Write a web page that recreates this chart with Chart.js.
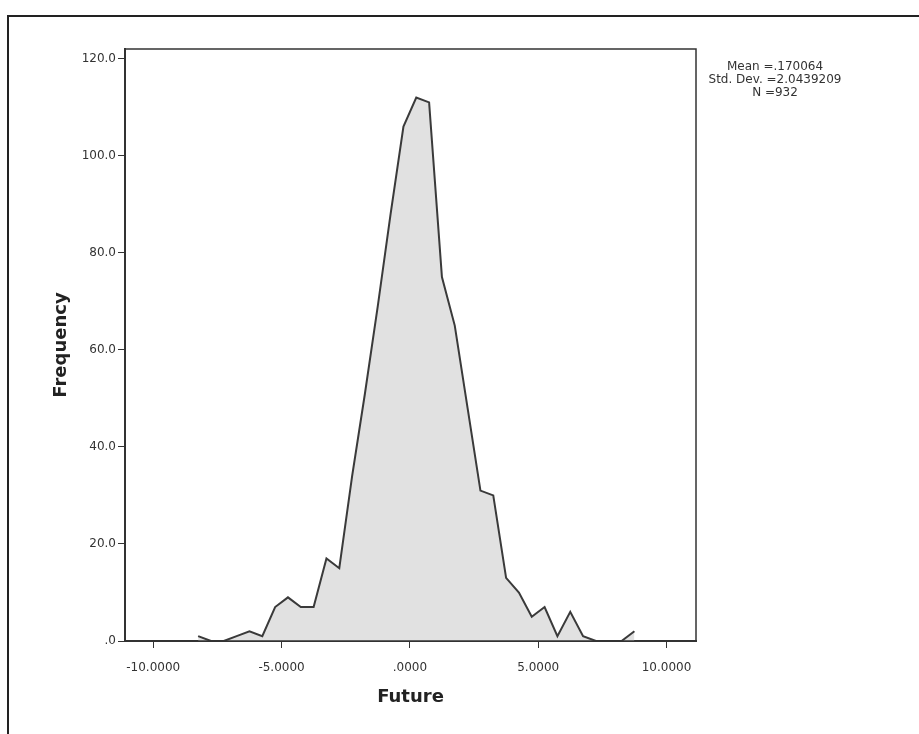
<!DOCTYPE html>
<html>
<head>
<meta charset="utf-8">
<script src="https://cdn.jsdelivr.net/npm/chart.js@4.4.1/dist/chart.umd.min.js"></script>
<style>
    html, body { margin: 0; padding: 0; background: #fff; }
    #wrap { position: relative; width: 919px; height: 734px; }
    #frame {
        position: absolute; left: 7px; top: 15px; right: 0; bottom: 0;
        border-left: 2px solid #222; border-top: 2px solid #222;
        pointer-events: none;
    }
    canvas { position: absolute; left: 0; top: 0; }
</style>
</head>
<body>
<div id="wrap">
    <canvas id="histChart" width="919" height="734"></canvas>
    <div id="frame"></div>
</div>
<script>
// bin midpoints of "Future" and the count in each bin (frequency polygon)
const binMids = [-8.25, -7.75, -7.25, -6.75, -6.25, -5.75, -5.25, -4.75, -4.25, -3.75,
    -3.25, -2.75, -2.25, -1.75, -1.25, -0.75, -0.25, 0.25, 0.75, 1.25,
    1.75, 2.25, 2.75, 3.25, 3.75, 4.25, 4.75, 5.25, 5.75, 6.25,
    6.75, 7.25, 7.75, 8.25, 8.75];
const frequencies = [1, 0, 0, 1, 2, 1, 7, 9, 7, 7,
    17, 15, 34, 51, 69, 88, 106, 112, 111, 75,
    65, 48, 31, 30, 13, 10, 5, 7, 1, 6,
    1, 0, 0, 0, 2];

const xTicks = [-10, -5, 0, 5, 10];
const yTicks = [0, 20, 40, 60, 80, 100, 120];
const statLines = ["Mean =.170064", "Std. Dev. =2.0439209", "N =932"];

function fmt(v, digits) {
    if (v === 0) return "." + "0".repeat(digits);
    return v.toFixed(digits);
}

// box round the plot area and the summary text on the right
const extras = {
    id: "extras",
    afterDraw(chart) {
        const { ctx, chartArea } = chart;
        ctx.save();
        ctx.strokeStyle = "#333";
        ctx.lineWidth = 1.5;
        ctx.strokeRect(chartArea.left, chartArea.top,
            chartArea.right - chartArea.left, chartArea.bottom - chartArea.top);

        ctx.fillStyle = "#333";
        ctx.font = "12px 'DejaVu Sans'";
        ctx.textAlign = "center";
        ctx.textBaseline = "middle";
        statLines.forEach((s, i) => {
            ctx.fillText(s, chartArea.right + 79, chartArea.top + 18 + i * 13);
        });
        ctx.restore();
    },
};

const ctx = document.getElementById("histChart").getContext("2d");

new Chart(ctx, {
    type: "line",
    data: {
        datasets: [
            {
                label: "Future",
                data: binMids.map((x, i) => ({ x: x, y: frequencies[i] })),
                borderColor: "#3a3a3a",
                borderWidth: 2,
                backgroundColor: "#e1e1e1",
                fill: "origin",
                tension: 0,
                pointRadius: 0,
            },
        ],
    },
    options: {
        responsive: false,
        animation: false,
        devicePixelRatio: 1,
        layout: { padding: { left: 47, right: 223, top: 49, bottom: 22 } },
        plugins: {
            legend: { display: false },
            tooltip: { enabled: false },
        },
        scales: {
            x: {
                type: "linear",
                min: -11.1,
                max: 11.15,
                afterFit: (s) => { s.height = 71; },
                afterBuildTicks: (s) => { s.ticks = xTicks.map((v) => ({ value: v })); },
                grid: { drawOnChartArea: false, drawTicks: true, tickLength: 7, color: "#333" },
                border: { color: "#333", width: 2 },
                ticks: {
                    color: "#333",
                    font: { family: "'DejaVu Sans'", size: 12 },
                    padding: 13,
                    maxRotation: 0,
                    callback: (v) => fmt(v, 4),
                },
                title: {
                    display: true,
                    text: "Future",
                    color: "#222",
                    font: { family: "'DejaVu Sans'", size: 18, weight: "bold" },
                    padding: { top: 4, bottom: 4 },
                },
            },
            y: {
                min: 0,
                max: 122,
                afterFit: (s) => { s.width = 78; },
                afterBuildTicks: (s) => { s.ticks = yTicks.map((v) => ({ value: v })); },
                grid: { drawOnChartArea: false, drawTicks: true, tickLength: 7, color: "#333" },
                border: { color: "#333", width: 2 },
                ticks: {
                    color: "#333",
                    font: { family: "'DejaVu Sans'", size: 12 },
                    padding: 2,
                    callback: (v) => fmt(v, 1),
                },
                title: {
                    display: true,
                    text: "Frequency",
                    color: "#222",
                    font: { family: "'DejaVu Sans'", size: 18, weight: "bold" },
                    padding: { top: 4, bottom: 4 },
                },
            },
        },
    },
    plugins: [extras],
});
</script>
</body>
</html>
